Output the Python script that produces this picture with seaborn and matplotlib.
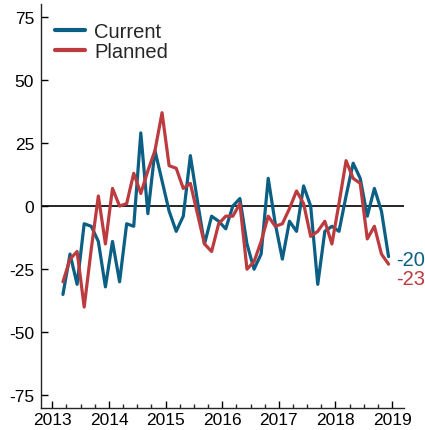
import numpy as np
import pandas as pd
import seaborn as sns
import matplotlib
matplotlib.use("Agg")
import matplotlib.pyplot as plt
from matplotlib.ticker import MultipleLocator

# survey dates, 8 per year (decimal years)
dates = np.arange(2013.1875, 2019.0, 0.125)

current = [-35, -19, -31, -7, -8, -14, -32, -14, -30, -7, -8, 29, -3, 22, 10, -2,
           -10, -4, 20, 2, -15, -4, -6, -9, 0, 3, -15, -25, -19, 11, -7, -21,
           -6, -10, 8, 0, -31, -10, -8, -10, 4, 17, 11, -4, 7, -2, -20]
planned = [-30, -21, -18, -40, -17, 4, -15, 7, 0, 1, 13, 5, 14, 22, 37, 16,
           15, 7, 9, -3, -15, -18, -7, -4, -4, 1, -25, -22, -14, -4, -8, -7,
           -1, 6, 1, -12, -10, -6, -15, 1, 18, 11, 9, -13, -8, -19, -23]
series = ["Current", "Planned"]
colors = {"Current": "#0B5E84", "Planned": "#BC3B3E"}
year_ticks = [2013, 2014, 2015, 2016, 2017, 2018, 2019]
y_ticks = [-75, -50, -25, 0, 25, 50, 75]

df = pd.concat([
    pd.DataFrame({"date": dates, "value": current, "series": "Current"}),
    pd.DataFrame({"date": dates, "value": planned, "series": "Planned"}),
])

sns.set_style("ticks")
plt.rcParams['font.family'] = ['Liberation Sans', 'DejaVu Sans']
plt.rcParams['axes.unicode_minus'] = False

fig = plt.figure(figsize=(4.25, 4.31), dpi=100)
ax = fig.add_axes([0.0965, 0.051, 0.854, 0.937])

ax.axhline(0, color="black", lw=1.2, zorder=1)
sns.lineplot(data=df, x="date", y="value", hue="series", hue_order=series,
             palette=colors, lw=2.3, ax=ax, zorder=3)

ax.set_xlim(2012.8, 2019.21)
ax.set_ylim(-80, 80)
ax.set_xticks(year_ticks)
ax.set_xticklabels([str(y) for y in year_ticks])
ax.xaxis.set_minor_locator(MultipleLocator(0.25))
ax.set_yticks(y_ticks)
ax.set_xlabel("")
ax.set_ylabel("")

for s in ["top", "right"]:
    ax.spines[s].set_visible(False)
ax.spines["left"].set_linewidth(1.0)
ax.spines["bottom"].set_linewidth(1.0)
ax.tick_params(axis="both", which="major", direction="in", labelsize=12.5,
               length=5, width=1.0, colors="black")
ax.tick_params(axis="x", which="major", pad=3)
ax.tick_params(axis="y", which="major", pad=5)
ax.tick_params(axis="x", which="minor", direction="in", length=3, width=1.0)

leg = ax.legend(loc="upper left", frameon=False, fontsize=14.5, handlelength=1.5,
                handletextpad=0.45, labelspacing=0.05, borderaxespad=0.3,
                bbox_to_anchor=(0.0, 0.99))
for line in leg.get_lines():
    line.set_linewidth(3)

ax.text(dates[-1] + 0.13, current[-1] - 1, str(current[-1]), color=colors["Current"],
        fontsize=14.5, va="center", ha="left", clip_on=False)
ax.text(dates[-1] + 0.13, planned[-1] - 5.5, str(planned[-1]), color=colors["Planned"],
        fontsize=14.5, va="center", ha="left", clip_on=False)

fig.savefig("out.png", dpi=100)
